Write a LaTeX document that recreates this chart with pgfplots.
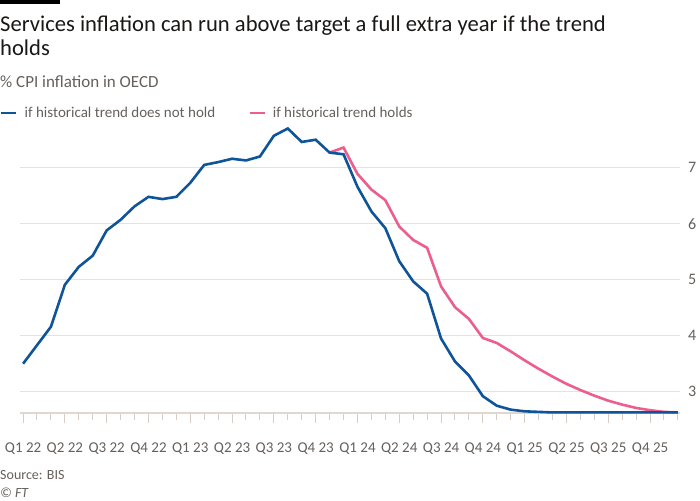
\documentclass[border=0pt]{standalone}
\usepackage{fontspec}
\setmainfont{Carlito}
\usepackage{pgfplots}
\pgfplotsset{compat=1.18}
\definecolor{ftblue}{HTML}{0F5499}
\definecolor{ftpink}{HTML}{EB5E8D}
\definecolor{ftgrid}{HTML}{EAE2DA}
\definecolor{ftaxis}{HTML}{E0D7CE}
\definecolor{fttick}{HTML}{D6CEC6}
\definecolor{ftgray}{HTML}{66605C}
\definecolor{fttitle}{HTML}{1A1817}
\begin{document}
\begin{tikzpicture}
\useasboundingbox (0pt,0pt) rectangle (700pt,500pt);
\fill[black] (0pt,500pt) rectangle (60pt,495.5pt);
\node[anchor=base west, inner sep=0, text=fttitle, font=\fontsize{22.6}{26}\selectfont] at (0pt,468pt) {Services inflation can run above target a full extra year if the trend};
\node[anchor=base west, inner sep=0, text=fttitle, font=\fontsize{22.6}{26}\selectfont] at (0pt,444pt) {holds};
\node[anchor=base west, inner sep=0, text=ftgray, font=\fontsize{17}{20}\selectfont] at (0pt,412pt) {\% CPI inflation in OECD};
\node[anchor=base west, inner sep=0, text=ftgray, font=\fontsize{14}{16}\selectfont] at (0pt,21pt) {Source: BIS};
\node[anchor=base west, inner sep=0, text=ftgray, font=\fontsize{14}{16}\selectfont\itshape] at (0pt,3pt) {© FT};
\begin{axis}[
  at={(20pt,87pt)}, anchor=south west,
  scale only axis, width=660pt, height=287pt,
  xmin=-0.22, xmax=47.15, ymin=2.62, ymax=7.745,
  axis x line*=bottom, axis y line*=right,
  x axis line style={draw=ftaxis, line width=1.8pt, -},
  y axis line style={draw=none},
  xtick={0,3,...,45},
  xticklabels={Q1 22,Q2 22,Q3 22,Q4 22,Q1 23,Q2 23,Q3 23,Q4 23,Q1 24,Q2 24,Q3 24,Q4 24,Q1 25,Q2 25,Q3 25,Q4 25},
  minor xtick={1,2,4,5,7,8,10,11,13,14,16,17,19,20,22,23,25,26,28,29,31,32,34,35,37,38,40,41,43,44,46,47},
  tick align=outside,
  major tick length=10pt, minor tick length=6.5pt,
  x tick style={draw=fttick, line width=1pt},
  ytick={3,4,5,6,7},
  y tick style={draw=none},
  ymajorgrids, grid style={draw=ftgrid, line width=1pt},
  /pgf/number format/assume math mode=true,
  xticklabel style={anchor=base, inner sep=0pt, yshift=-29pt, text=ftgray, font=\fontsize{15}{17}\selectfont},
  yticklabel style={anchor=west, inner sep=0pt, xshift=-2pt, text=ftgray, font=\fontsize{16}{18}\selectfont},
  legend columns=2,
  legend style={at={(0,1)}, anchor=west, xshift=-20pt, yshift=13pt, draw=none, fill=none, inner sep=0pt,
    font=\fontsize{15}{17}\selectfont, text=ftgray,
    /tikz/every odd column/.append style={column sep=5pt},
    /tikz/every even column/.append style={column sep=31pt}},
  legend cell align=left,
  legend image code/.code={\draw[#1, line width=2.5pt] (0pt,0pt) -- (15pt,0pt);},
  clip=false,
]
\addplot[ftpink, line width=2.6pt, forget plot] coordinates {
(22,7.27)(23,7.36)(24,6.89)(25,6.61)(26,6.42)(27,5.95)(28,5.71)(29,5.57)(30,4.88)(31,4.51)(32,4.30)(33,3.96)(34,3.87)(35,3.72)(36,3.56)(37,3.41)(38,3.27)(39,3.14)(40,3.03)(41,2.93)(42,2.84)(43,2.77)(44,2.71)(45,2.67)(46,2.64)(47,2.63)
};
\addplot[ftblue, line width=2.6pt] coordinates {
(0,3.50)(1,3.83)(2,4.16)(3,4.91)(4,5.23)(5,5.43)(6,5.88)(7,6.07)(8,6.31)(9,6.48)(10,6.44)(11,6.48)(12,6.73)(13,7.05)(14,7.10)(15,7.16)(16,7.13)(17,7.20)(18,7.57)(19,7.70)(20,7.46)(21,7.50)(22,7.27)(23,7.24)(24,6.66)(25,6.22)(26,5.92)(27,5.33)(28,4.97)(29,4.75)(30,3.95)(31,3.54)(32,3.29)(33,2.92)(34,2.75)(35,2.68)(36,2.65)(37,2.64)(38,2.63)(39,2.63)(40,2.63)(41,2.63)(42,2.63)(43,2.63)(44,2.63)(45,2.63)(46,2.63)(47,2.63)
};
\addlegendentry{if historical trend does not hold}
\addlegendimage{ftpink, line width=2.5pt}
\addlegendentry{if historical trend holds}
\end{axis}
\end{tikzpicture}
\end{document}
